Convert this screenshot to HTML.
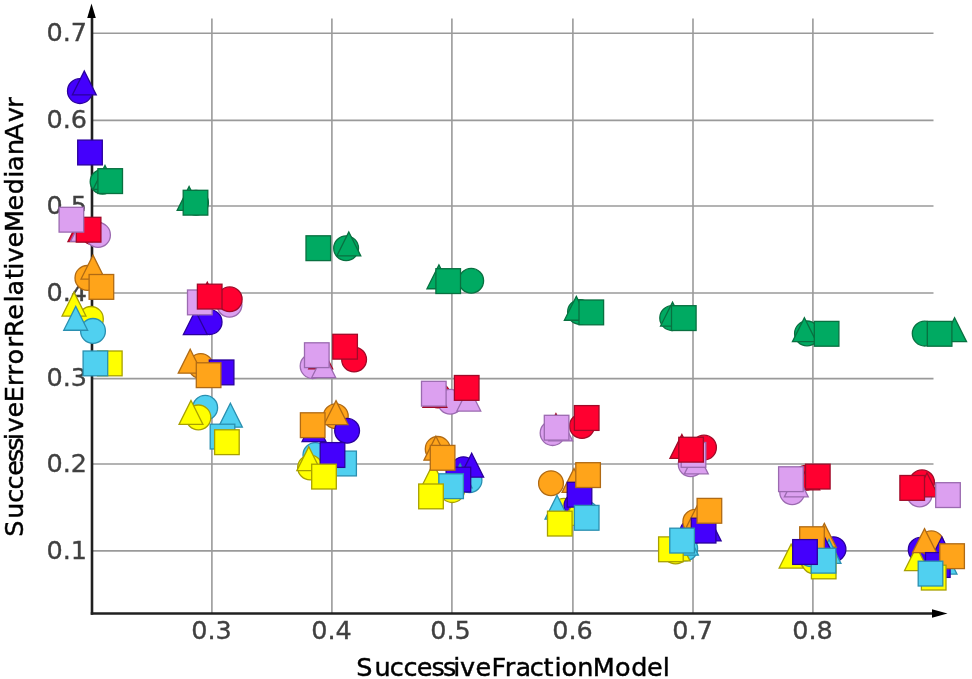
<!DOCTYPE html>
<html><head><meta charset="utf-8"><title>SuccessiveErrorRelativeMedianAvr</title>
<style>
html,body{margin:0;padding:0;background:#fff}
svg{display:block;filter:blur(0.45px)}
text{font-family:"DejaVu Sans","Liberation Sans",sans-serif}
.tk{font-size:25.5px;fill:#404040;stroke:#404040;stroke-width:0.35}
.lb{font-size:25.5px;fill:#000;stroke:#000;stroke-width:0.45}
</style></head><body>
<svg width="972" height="679" viewBox="0 0 972 679">
<rect width="972" height="679" fill="#fff"/>
<g stroke="#9a9a9a" stroke-width="1.6" fill="none">
<line x1="211.9" y1="18.5" x2="211.9" y2="613"/>
<line x1="331.9" y1="18.5" x2="331.9" y2="613"/>
<line x1="451.9" y1="18.5" x2="451.9" y2="613"/>
<line x1="572.9" y1="18.5" x2="572.9" y2="613"/>
<line x1="693.0" y1="18.5" x2="693.0" y2="613"/>
<line x1="812.9" y1="18.5" x2="812.9" y2="613"/>
<line x1="92" y1="33.2" x2="933.5" y2="33.2"/>
<line x1="92" y1="120.4" x2="933.5" y2="120.4"/>
<line x1="92" y1="206" x2="933.5" y2="206"/>
<line x1="92" y1="293" x2="933.5" y2="293"/>
<line x1="92" y1="378.6" x2="933.5" y2="378.6"/>
<line x1="92" y1="464.0" x2="933.5" y2="464.0"/>
<line x1="92" y1="550.9" x2="933.5" y2="550.9"/>
</g>
<g class="tk">
<text x="211.5" y="639" text-anchor="middle">0.3</text>
<text x="331.5" y="639" text-anchor="middle">0.4</text>
<text x="450.5" y="639" text-anchor="middle">0.5</text>
<text x="572.5" y="639" text-anchor="middle">0.6</text>
<text x="692.6" y="639" text-anchor="middle">0.7</text>
<text x="812.5" y="639" text-anchor="middle">0.8</text>
<text x="46.5" y="40.800000000000004">0.7</text>
<text x="46.5" y="128.0">0.6</text>
<text x="46.5" y="213.6">0.5</text>
<text x="46.5" y="300.6">0.4</text>
<text x="46.5" y="386.20000000000005">0.3</text>
<text x="46.5" y="471.6">0.2</text>
<text x="46.5" y="558.5">0.1</text>
</g>
<g stroke="#202020" stroke-width="2.6" fill="none"><line x1="92" y1="614.7" x2="92" y2="16"/><line x1="90.75" y1="613.5" x2="934" y2="613.5"/></g>
<polygon points="91.5,3.6 95.8,18 87.2,18" fill="#000"/>
<polygon points="947.5,613.5 932,617.7 932,609.3" fill="#000"/>
<text class="lb" transform="translate(0,675.6) scale(1.0,1.0)" y="0" x="356.30 374.41 389.82 403.60 416.87 431.50 442.97 453.31 460.12 475.46 491.49 504.78 515.46 529.73 543.42 554.40 561.53 577.26 592.67 614.95 631.29 647.12 662.65">SuccessiveFractionModel</text>
<text class="lb" transform="translate(22.9,0) rotate(-90) scale(1.0,1.0)" y="0" x="-536.80 -518.83 -502.86 -489.44 -475.72 -462.04 -450.74 -440.26 -432.58 -417.39 -402.20 -386.09 -375.54 -364.62 -347.53 -337.04 -319.77 -302.58 -295.50 -279.17 -269.87 -262.48 -247.39 -232.00 -210.50 -194.31 -177.72 -171.05 -154.92 -140.75 -122.31 -107.82">SuccessiveErrorRelativeMedianAvr</text>
<g>
<circle cx="79.9" cy="91.1" r="12.4" fill="#4400fc" stroke="#2a009c" stroke-width="1.3"/>
<circle cx="102.6" cy="181.7" r="12.4" fill="#00aa62" stroke="#087040" stroke-width="1.3"/>
<circle cx="93.5" cy="232.5" r="12.4" fill="#ff0030" stroke="#a00a28" stroke-width="1.3"/>
<circle cx="98.0" cy="234.9" r="12.4" fill="#dca0f0" stroke="#9b6ab0" stroke-width="1.3"/>
<circle cx="87.4" cy="277.9" r="12.4" fill="#ffa41a" stroke="#b06a14" stroke-width="1.3"/>
<circle cx="90.9" cy="318.9" r="12.4" fill="#ffff00" stroke="#a8a000" stroke-width="1.3"/>
<circle cx="93.0" cy="330.9" r="12.4" fill="#50d0f0" stroke="#2a8fb0" stroke-width="1.3"/>
<polygon points="84.3,70.95 96.25,94.85 72.35,94.85" fill="#4400fc" stroke="#2a009c" stroke-width="1.3" stroke-linejoin="miter"/>
<polygon points="105.0,165.45 116.95,189.35 93.05,189.35" fill="#00aa62" stroke="#087040" stroke-width="1.3" stroke-linejoin="miter"/>
<polygon points="79.9,217.65 91.85,241.55 67.95,241.55" fill="#ff0030" stroke="#a00a28" stroke-width="1.3" stroke-linejoin="miter"/>
<polygon points="82.5,217.45 94.45,241.35 70.55,241.35" fill="#dca0f0" stroke="#9b6ab0" stroke-width="1.3" stroke-linejoin="miter"/>
<polygon points="93.0,255.15 104.95,279.05 81.05,279.05" fill="#ffa41a" stroke="#b06a14" stroke-width="1.3" stroke-linejoin="miter"/>
<polygon points="74.0,292.15 85.95,316.05 62.05,316.05" fill="#ffff00" stroke="#a8a000" stroke-width="1.3" stroke-linejoin="miter"/>
<polygon points="75.7,306.35 87.65,330.25 63.75,330.25" fill="#50d0f0" stroke="#2a8fb0" stroke-width="1.3" stroke-linejoin="miter"/>
<rect x="77.70" y="140.10" width="24.6" height="24.8" fill="#4400fc" stroke="#2a009c" stroke-width="1.3"/>
<rect x="97.90" y="168.70" width="24.6" height="24.8" fill="#00aa62" stroke="#087040" stroke-width="1.3"/>
<rect x="76.30" y="217.30" width="24.6" height="24.8" fill="#ff0030" stroke="#a00a28" stroke-width="1.3"/>
<rect x="59.10" y="207.30" width="24.6" height="24.8" fill="#dca0f0" stroke="#9b6ab0" stroke-width="1.3"/>
<rect x="89.10" y="274.50" width="24.6" height="24.8" fill="#ffa41a" stroke="#b06a14" stroke-width="1.3"/>
<rect x="97.50" y="351.00" width="24.6" height="24.8" fill="#ffff00" stroke="#a8a000" stroke-width="1.3"/>
<rect x="83.10" y="351.00" width="24.6" height="24.8" fill="#50d0f0" stroke="#2a8fb0" stroke-width="1.3"/>
<circle cx="196.0" cy="202.8" r="12.4" fill="#00aa62" stroke="#087040" stroke-width="1.3"/>
<circle cx="209.6" cy="322.1" r="12.4" fill="#4400fc" stroke="#2a009c" stroke-width="1.3"/>
<circle cx="229.5" cy="304.8" r="12.4" fill="#dca0f0" stroke="#9b6ab0" stroke-width="1.3"/>
<circle cx="229.7" cy="299.3" r="12.4" fill="#ff0030" stroke="#a00a28" stroke-width="1.3"/>
<circle cx="200.7" cy="366.0" r="12.4" fill="#ffa41a" stroke="#b06a14" stroke-width="1.3"/>
<circle cx="205.2" cy="407.8" r="12.4" fill="#50d0f0" stroke="#2a8fb0" stroke-width="1.3"/>
<circle cx="198.4" cy="417.4" r="12.4" fill="#ffff00" stroke="#a8a000" stroke-width="1.3"/>
<polygon points="189.1,186.45 201.05,210.35 177.15,210.35" fill="#00aa62" stroke="#087040" stroke-width="1.3" stroke-linejoin="miter"/>
<polygon points="195.3,310.65 207.25,334.55 183.35,334.55" fill="#4400fc" stroke="#2a009c" stroke-width="1.3" stroke-linejoin="miter"/>
<polygon points="207.3,282.25 219.25,306.15 195.35,306.15" fill="#ff0030" stroke="#a00a28" stroke-width="1.3" stroke-linejoin="miter"/>
<polygon points="190.2,349.25 202.15,373.15 178.25,373.15" fill="#ffa41a" stroke="#b06a14" stroke-width="1.3" stroke-linejoin="miter"/>
<polygon points="191.0,400.55 202.95,424.45 179.05,424.45" fill="#ffff00" stroke="#a8a000" stroke-width="1.3" stroke-linejoin="miter"/>
<polygon points="230.4,403.25 242.35,427.15 218.45,427.15" fill="#50d0f0" stroke="#2a8fb0" stroke-width="1.3" stroke-linejoin="miter"/>
<rect x="183.20" y="190.30" width="24.6" height="24.8" fill="#00aa62" stroke="#087040" stroke-width="1.3"/>
<rect x="187.50" y="290.00" width="24.6" height="24.8" fill="#dca0f0" stroke="#9b6ab0" stroke-width="1.3"/>
<rect x="197.40" y="284.20" width="24.6" height="24.8" fill="#ff0030" stroke="#a00a28" stroke-width="1.3"/>
<rect x="209.30" y="360.00" width="24.6" height="24.8" fill="#4400fc" stroke="#2a009c" stroke-width="1.3"/>
<rect x="196.30" y="362.80" width="24.6" height="24.8" fill="#ffa41a" stroke="#b06a14" stroke-width="1.3"/>
<rect x="210.20" y="424.20" width="24.6" height="24.8" fill="#50d0f0" stroke="#2a8fb0" stroke-width="1.3"/>
<rect x="214.60" y="429.80" width="24.6" height="24.8" fill="#ffff00" stroke="#a8a000" stroke-width="1.3"/>
<circle cx="346.1" cy="248.2" r="12.4" fill="#00aa62" stroke="#087040" stroke-width="1.3"/>
<circle cx="354.1" cy="359.5" r="12.4" fill="#ff0030" stroke="#a00a28" stroke-width="1.3"/>
<circle cx="312.6" cy="366.1" r="12.4" fill="#dca0f0" stroke="#9b6ab0" stroke-width="1.3"/>
<circle cx="335.8" cy="416.3" r="12.4" fill="#ffa41a" stroke="#b06a14" stroke-width="1.3"/>
<circle cx="347.1" cy="430.8" r="12.4" fill="#4400fc" stroke="#2a009c" stroke-width="1.3"/>
<circle cx="315.4" cy="455.0" r="12.4" fill="#50d0f0" stroke="#2a8fb0" stroke-width="1.3"/>
<circle cx="310.1" cy="467.5" r="12.4" fill="#ffff00" stroke="#a8a000" stroke-width="1.3"/>
<polygon points="348.8,231.95 360.75,255.85 336.85,255.85" fill="#00aa62" stroke="#087040" stroke-width="1.3" stroke-linejoin="miter"/>
<polygon points="320.7,344.85 332.65,368.75 308.75,368.75" fill="#ff0030" stroke="#a00a28" stroke-width="1.3" stroke-linejoin="miter"/>
<polygon points="323.7,353.65 335.65,377.55 311.75,377.55" fill="#dca0f0" stroke="#9b6ab0" stroke-width="1.3" stroke-linejoin="miter"/>
<polygon points="314.0,417.65 325.95,441.55 302.05,441.55" fill="#4400fc" stroke="#2a009c" stroke-width="1.3" stroke-linejoin="miter"/>
<polygon points="336.0,400.65 347.95,424.55 324.05,424.55" fill="#ffa41a" stroke="#b06a14" stroke-width="1.3" stroke-linejoin="miter"/>
<polygon points="308.8,446.75 320.75,470.65 296.85,470.65" fill="#ffff00" stroke="#a8a000" stroke-width="1.3" stroke-linejoin="miter"/>
<rect x="306.00" y="235.80" width="24.6" height="24.8" fill="#00aa62" stroke="#087040" stroke-width="1.3"/>
<rect x="332.80" y="334.30" width="24.6" height="24.8" fill="#ff0030" stroke="#a00a28" stroke-width="1.3"/>
<rect x="304.50" y="342.80" width="24.6" height="24.8" fill="#dca0f0" stroke="#9b6ab0" stroke-width="1.3"/>
<rect x="300.40" y="412.80" width="24.6" height="24.8" fill="#ffa41a" stroke="#b06a14" stroke-width="1.3"/>
<rect x="331.80" y="451.10" width="24.6" height="24.8" fill="#50d0f0" stroke="#2a8fb0" stroke-width="1.3"/>
<rect x="320.20" y="442.60" width="24.6" height="24.8" fill="#4400fc" stroke="#2a009c" stroke-width="1.3"/>
<rect x="311.70" y="464.20" width="24.6" height="24.8" fill="#ffff00" stroke="#a8a000" stroke-width="1.3"/>
<circle cx="471.2" cy="280.8" r="12.4" fill="#00aa62" stroke="#087040" stroke-width="1.3"/>
<circle cx="438.0" cy="395.4" r="12.4" fill="#ff0030" stroke="#a00a28" stroke-width="1.3"/>
<circle cx="450.2" cy="401.7" r="12.4" fill="#dca0f0" stroke="#9b6ab0" stroke-width="1.3"/>
<circle cx="437.7" cy="448.9" r="12.4" fill="#ffa41a" stroke="#b06a14" stroke-width="1.3"/>
<circle cx="463.4" cy="469.2" r="12.4" fill="#4400fc" stroke="#2a009c" stroke-width="1.3"/>
<circle cx="469.5" cy="480.2" r="12.4" fill="#50d0f0" stroke="#2a8fb0" stroke-width="1.3"/>
<circle cx="452.2" cy="490.1" r="12.4" fill="#ffff00" stroke="#a8a000" stroke-width="1.3"/>
<polygon points="438.9,264.85 450.85,288.75 426.95,288.75" fill="#00aa62" stroke="#087040" stroke-width="1.3" stroke-linejoin="miter"/>
<polygon points="434.9,383.35 446.85,407.25 422.95,407.25" fill="#ff0030" stroke="#a00a28" stroke-width="1.3" stroke-linejoin="miter"/>
<polygon points="468.8,387.15 480.75,411.05 456.85,411.05" fill="#dca0f0" stroke="#9b6ab0" stroke-width="1.3" stroke-linejoin="miter"/>
<polygon points="435.9,436.25 447.85,460.15 423.95,460.15" fill="#ffa41a" stroke="#b06a14" stroke-width="1.3" stroke-linejoin="miter"/>
<polygon points="460.1,463.85 472.05,487.75 448.15,487.75" fill="#50d0f0" stroke="#2a8fb0" stroke-width="1.3" stroke-linejoin="miter"/>
<polygon points="471.7,453.25 483.65,477.15 459.75,477.15" fill="#4400fc" stroke="#2a009c" stroke-width="1.3" stroke-linejoin="miter"/>
<polygon points="433.2,463.35 445.15,487.25 421.25,487.25" fill="#ffff00" stroke="#a8a000" stroke-width="1.3" stroke-linejoin="miter"/>
<rect x="435.90" y="268.70" width="24.6" height="24.8" fill="#00aa62" stroke="#087040" stroke-width="1.3"/>
<rect x="421.50" y="381.30" width="24.6" height="24.8" fill="#dca0f0" stroke="#9b6ab0" stroke-width="1.3"/>
<rect x="454.40" y="375.50" width="24.6" height="24.8" fill="#ff0030" stroke="#a00a28" stroke-width="1.3"/>
<rect x="446.10" y="467.20" width="24.6" height="24.8" fill="#4400fc" stroke="#2a009c" stroke-width="1.3"/>
<rect x="430.30" y="445.40" width="24.6" height="24.8" fill="#ffa41a" stroke="#b06a14" stroke-width="1.3"/>
<rect x="438.80" y="473.80" width="24.6" height="24.8" fill="#50d0f0" stroke="#2a8fb0" stroke-width="1.3"/>
<rect x="418.70" y="484.00" width="24.6" height="24.8" fill="#ffff00" stroke="#a8a000" stroke-width="1.3"/>
<polygon points="555.9,413.65 567.85,437.55 543.95,437.55" fill="#ff0030" stroke="#a00a28" stroke-width="1.3" stroke-linejoin="miter"/>
<circle cx="580.0" cy="312.0" r="12.4" fill="#00aa62" stroke="#087040" stroke-width="1.3"/>
<circle cx="582.0" cy="426.0" r="12.4" fill="#ff0030" stroke="#a00a28" stroke-width="1.3"/>
<circle cx="552.6" cy="433.1" r="12.4" fill="#dca0f0" stroke="#9b6ab0" stroke-width="1.3"/>
<circle cx="551.0" cy="483.2" r="12.4" fill="#ffa41a" stroke="#b06a14" stroke-width="1.3"/>
<circle cx="564.0" cy="510.8" r="12.4" fill="#ffff00" stroke="#a8a000" stroke-width="1.3"/>
<circle cx="576.5" cy="505.6" r="12.4" fill="#4400fc" stroke="#2a009c" stroke-width="1.3"/>
<circle cx="586.0" cy="513.5" r="12.4" fill="#50d0f0" stroke="#2a8fb0" stroke-width="1.3"/>
<polygon points="576.3,296.35 588.25,320.25 564.35,320.25" fill="#00aa62" stroke="#087040" stroke-width="1.3" stroke-linejoin="miter"/>
<polygon points="560.7,417.05 572.65,440.95 548.75,440.95" fill="#dca0f0" stroke="#9b6ab0" stroke-width="1.3" stroke-linejoin="miter"/>
<polygon points="574.0,468.55 585.95,492.45 562.05,492.45" fill="#ffa41a" stroke="#b06a14" stroke-width="1.3" stroke-linejoin="miter"/>
<polygon points="573.5,501.45 585.45,525.35 561.55,525.35" fill="#ffff00" stroke="#a8a000" stroke-width="1.3" stroke-linejoin="miter"/>
<polygon points="557.0,495.25 568.95,519.15 545.05,519.15" fill="#50d0f0" stroke="#2a8fb0" stroke-width="1.3" stroke-linejoin="miter"/>
<rect x="579.00" y="300.00" width="24.6" height="24.8" fill="#00aa62" stroke="#087040" stroke-width="1.3"/>
<rect x="544.30" y="415.30" width="24.6" height="24.8" fill="#dca0f0" stroke="#9b6ab0" stroke-width="1.3"/>
<rect x="574.40" y="405.60" width="24.6" height="24.8" fill="#ff0030" stroke="#a00a28" stroke-width="1.3"/>
<rect x="567.20" y="482.30" width="24.6" height="24.8" fill="#4400fc" stroke="#2a009c" stroke-width="1.3"/>
<rect x="575.80" y="462.70" width="24.6" height="24.8" fill="#ffa41a" stroke="#b06a14" stroke-width="1.3"/>
<rect x="574.40" y="505.40" width="24.6" height="24.8" fill="#50d0f0" stroke="#2a8fb0" stroke-width="1.3"/>
<rect x="547.50" y="511.20" width="24.6" height="24.8" fill="#ffff00" stroke="#a8a000" stroke-width="1.3"/>
<circle cx="672.2" cy="318.1" r="12.4" fill="#00aa62" stroke="#087040" stroke-width="1.3"/>
<circle cx="704.0" cy="447.6" r="12.4" fill="#ff0030" stroke="#a00a28" stroke-width="1.3"/>
<circle cx="690.7" cy="464.3" r="12.4" fill="#dca0f0" stroke="#9b6ab0" stroke-width="1.3"/>
<circle cx="692.5" cy="531.4" r="12.4" fill="#4400fc" stroke="#2a009c" stroke-width="1.3"/>
<circle cx="695.3" cy="521.7" r="12.4" fill="#ffa41a" stroke="#b06a14" stroke-width="1.3"/>
<circle cx="675.6" cy="551.5" r="12.4" fill="#ffff00" stroke="#a8a000" stroke-width="1.3"/>
<circle cx="685.2" cy="548.4" r="12.4" fill="#50d0f0" stroke="#2a8fb0" stroke-width="1.3"/>
<polygon points="672.5,302.15 684.45,326.05 660.55,326.05" fill="#00aa62" stroke="#087040" stroke-width="1.3" stroke-linejoin="miter"/>
<polygon points="681.9,434.45 693.85,458.35 669.95,458.35" fill="#ff0030" stroke="#a00a28" stroke-width="1.3" stroke-linejoin="miter"/>
<polygon points="696.3,449.95 708.25,473.85 684.35,473.85" fill="#dca0f0" stroke="#9b6ab0" stroke-width="1.3" stroke-linejoin="miter"/>
<polygon points="698.0,503.95 709.95,527.85 686.05,527.85" fill="#ffa41a" stroke="#b06a14" stroke-width="1.3" stroke-linejoin="miter"/>
<polygon points="709.2,517.05 721.15,540.95 697.25,540.95" fill="#4400fc" stroke="#2a009c" stroke-width="1.3" stroke-linejoin="miter"/>
<polygon points="678.1,537.05 690.05,560.95 666.15,560.95" fill="#ffff00" stroke="#a8a000" stroke-width="1.3" stroke-linejoin="miter"/>
<polygon points="686.4,531.25 698.35,555.15 674.45,555.15" fill="#50d0f0" stroke="#2a8fb0" stroke-width="1.3" stroke-linejoin="miter"/>
<rect x="671.50" y="305.70" width="24.6" height="24.8" fill="#00aa62" stroke="#087040" stroke-width="1.3"/>
<rect x="681.20" y="442.50" width="24.6" height="24.8" fill="#dca0f0" stroke="#9b6ab0" stroke-width="1.3"/>
<rect x="678.80" y="437.30" width="24.6" height="24.8" fill="#ff0030" stroke="#a00a28" stroke-width="1.3"/>
<rect x="691.30" y="518.20" width="24.6" height="24.8" fill="#4400fc" stroke="#2a009c" stroke-width="1.3"/>
<rect x="697.10" y="498.40" width="24.6" height="24.8" fill="#ffa41a" stroke="#b06a14" stroke-width="1.3"/>
<rect x="658.60" y="536.90" width="24.6" height="24.8" fill="#ffff00" stroke="#a8a000" stroke-width="1.3"/>
<rect x="669.80" y="528.20" width="24.6" height="24.8" fill="#50d0f0" stroke="#2a8fb0" stroke-width="1.3"/>
<circle cx="807.0" cy="333.4" r="12.4" fill="#00aa62" stroke="#087040" stroke-width="1.3"/>
<circle cx="806.0" cy="477.8" r="12.4" fill="#ff0030" stroke="#a00a28" stroke-width="1.3"/>
<circle cx="792.2" cy="492.2" r="12.4" fill="#dca0f0" stroke="#9b6ab0" stroke-width="1.3"/>
<circle cx="833.5" cy="549.2" r="12.4" fill="#4400fc" stroke="#2a009c" stroke-width="1.3"/>
<circle cx="814.2" cy="561.4" r="12.4" fill="#ffff00" stroke="#a8a000" stroke-width="1.3"/>
<circle cx="811.0" cy="554.2" r="12.4" fill="#50d0f0" stroke="#2a8fb0" stroke-width="1.3"/>
<polygon points="804.4,317.75 816.35,341.65 792.45,341.65" fill="#00aa62" stroke="#087040" stroke-width="1.3" stroke-linejoin="miter"/>
<polygon points="807.8,465.95 819.75,489.85 795.85,489.85" fill="#ff0030" stroke="#a00a28" stroke-width="1.3" stroke-linejoin="miter"/>
<polygon points="796.3,472.95 808.25,496.85 784.35,496.85" fill="#dca0f0" stroke="#9b6ab0" stroke-width="1.3" stroke-linejoin="miter"/>
<polygon points="824.3,523.35 836.25,547.25 812.35,547.25" fill="#ffa41a" stroke="#b06a14" stroke-width="1.3" stroke-linejoin="miter"/>
<polygon points="791.1,544.15 803.05,568.05 779.15,568.05" fill="#ffff00" stroke="#a8a000" stroke-width="1.3" stroke-linejoin="miter"/>
<polygon points="829.0,539.45 840.95,563.35 817.05,563.35" fill="#50d0f0" stroke="#2a8fb0" stroke-width="1.3" stroke-linejoin="miter"/>
<polygon points="823.0,534.15 834.95,558.05 811.05,558.05" fill="#4400fc" stroke="#2a009c" stroke-width="1.3" stroke-linejoin="miter"/>
<rect x="814.30" y="321.40" width="24.6" height="24.8" fill="#00aa62" stroke="#087040" stroke-width="1.3"/>
<rect x="778.60" y="466.80" width="24.6" height="24.8" fill="#dca0f0" stroke="#9b6ab0" stroke-width="1.3"/>
<rect x="805.50" y="464.20" width="24.6" height="24.8" fill="#ff0030" stroke="#a00a28" stroke-width="1.3"/>
<rect x="799.70" y="526.80" width="24.6" height="24.8" fill="#ffa41a" stroke="#b06a14" stroke-width="1.3"/>
<rect x="811.40" y="554.00" width="24.6" height="24.8" fill="#ffff00" stroke="#a8a000" stroke-width="1.3"/>
<rect x="811.20" y="548.30" width="24.6" height="24.8" fill="#50d0f0" stroke="#2a8fb0" stroke-width="1.3"/>
<rect x="792.70" y="539.60" width="24.6" height="24.8" fill="#4400fc" stroke="#2a009c" stroke-width="1.3"/>
<circle cx="924.7" cy="333.6" r="12.4" fill="#00aa62" stroke="#087040" stroke-width="1.3"/>
<circle cx="922.0" cy="482.3" r="12.4" fill="#ff0030" stroke="#a00a28" stroke-width="1.3"/>
<circle cx="919.6" cy="494.4" r="12.4" fill="#dca0f0" stroke="#9b6ab0" stroke-width="1.3"/>
<circle cx="920.7" cy="549.8" r="12.4" fill="#4400fc" stroke="#2a009c" stroke-width="1.3"/>
<circle cx="931.3" cy="543.3" r="12.4" fill="#ffa41a" stroke="#b06a14" stroke-width="1.3"/>
<polygon points="954.6,317.75 966.55,341.65 942.65,341.65" fill="#00aa62" stroke="#087040" stroke-width="1.3" stroke-linejoin="miter"/>
<polygon points="927.0,472.95 938.95,496.85 915.05,496.85" fill="#ff0030" stroke="#a00a28" stroke-width="1.3" stroke-linejoin="miter"/>
<polygon points="916.5,546.65 928.45,570.55 904.55,570.55" fill="#ffff00" stroke="#a8a000" stroke-width="1.3" stroke-linejoin="miter"/>
<polygon points="945.0,550.15 956.95,574.05 933.05,574.05" fill="#50d0f0" stroke="#2a8fb0" stroke-width="1.3" stroke-linejoin="miter"/>
<polygon points="941.9,536.95 953.85,560.85 929.95,560.85" fill="#4400fc" stroke="#2a009c" stroke-width="1.3" stroke-linejoin="miter"/>
<polygon points="924.5,528.65 936.45,552.55 912.55,552.55" fill="#ffa41a" stroke="#b06a14" stroke-width="1.3" stroke-linejoin="miter"/>
<rect x="927.30" y="321.40" width="24.6" height="24.8" fill="#00aa62" stroke="#087040" stroke-width="1.3"/>
<rect x="899.90" y="475.50" width="24.6" height="24.8" fill="#ff0030" stroke="#a00a28" stroke-width="1.3"/>
<rect x="935.70" y="482.70" width="24.6" height="24.8" fill="#dca0f0" stroke="#9b6ab0" stroke-width="1.3"/>
<rect x="925.50" y="552.60" width="24.6" height="24.8" fill="#4400fc" stroke="#2a009c" stroke-width="1.3"/>
<rect x="939.80" y="543.80" width="24.6" height="24.8" fill="#ffa41a" stroke="#b06a14" stroke-width="1.3"/>
<rect x="921.40" y="565.20" width="24.6" height="24.8" fill="#ffff00" stroke="#a8a000" stroke-width="1.3"/>
<rect x="918.20" y="561.20" width="24.6" height="24.8" fill="#50d0f0" stroke="#2a8fb0" stroke-width="1.3"/>
</g>
</svg></body></html>
